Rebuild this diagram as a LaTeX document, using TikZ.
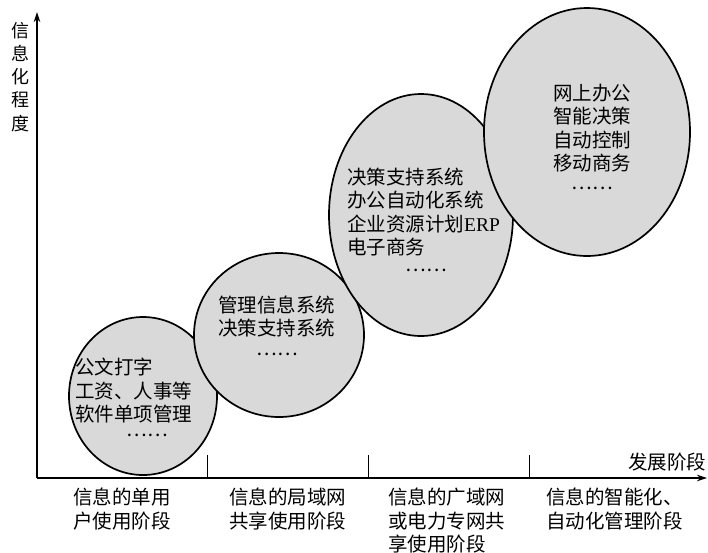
\documentclass[tikz,border=0pt]{standalone}
\usepackage{fontspec}
\setmainfont{Liberation Serif}
\newfontfamily\cjk{Noto Sans CJK SC}
\usetikzlibrary{arrows.meta,shapes.geometric}
\definecolor{bubblegray}{RGB}{217,217,217}
\begin{document}
\begin{tikzpicture}[x=1pt,y=-1pt,
  bubble/.style={ellipse,draw=black,line width=1.7pt,fill=bubblegray,inner sep=0pt},
  axisline/.style={line width=1.2pt,-{Stealth[length=10pt,width=6.5pt]}},
  tickline/.style={line width=1pt},
  txt/.style={font=\cjk\fontsize{19.5}{23.5}\selectfont,inner sep=0pt,align=left,anchor=north west},
  dotsnode/.style={font=\cjk\fontsize{19.5}{23.5}\selectfont,inner sep=0pt}
]
\useasboundingbox (0,0) rectangle (708,552);
% axes
\coordinate (O) at (37,478);
\coordinate (ytip) at (37,12);
\coordinate (xtip) at (707,478);
\draw[axisline] (O) -- (ytip);
\draw[axisline] (O) -- (xtip);
\coordinate (t1a) at (207,478); \coordinate (t1b) at (207,455);
\coordinate (t2a) at (368,478); \coordinate (t2b) at (368,455);
\coordinate (t3a) at (529,478); \coordinate (t3b) at (529,455);
\draw[tickline] (t1a) -- (t1b);
\draw[tickline] (t2a) -- (t2b);
\draw[tickline] (t3a) -- (t3b);
% axis labels
\node[font=\cjk\fontsize{18}{23.2}\selectfont,inner sep=0pt,align=center,anchor=north] (ylab) at (20,22) {信\\息\\化\\程\\度};
\node[txt] (xlab) at (628,453) {发展阶段};
% bubbles
\node[bubble,minimum width=148pt,minimum height=158pt] (e1) at (143,396) {};
\node[bubble,minimum width=170pt,minimum height=164pt] (e2) at (279,335) {};
\node[bubble,minimum width=184pt,minimum height=242pt] (e3) at (421,215) {};
\node[bubble,minimum width=206pt,minimum height=248pt] (e4) at (587,132) {};
% bubble texts
\node[txt] (e1t) at (75,358) {公文打字\\工资、人事等\\软件单项管理};
\node[dotsnode] (e1d) at (147,435) {……};
\node[txt] (e2t) at (218,295.5) {管理信息系统\\决策支持系统};
\node[dotsnode] (e2d) at (277,354) {……};
\node[txt] (e3t) at (347,167.5) {决策支持系统\\办公自动化系统\\企业资源计划{\rmfamily ERP}\\电子商务};
\node[dotsnode] (e3d) at (426,270) {……};
\node[txt] (e4t) at (553,83.5) {网上办公\\智能决策\\自动控制\\移动商务};
\node[dotsnode] (e4d) at (592,188) {……};
% stage labels
\node[txt] (s1) at (73,488) {信息的单用\\户使用阶段};
\node[txt] (s2) at (229,488) {信息的局域网\\共享使用阶段};
\node[txt] (s3) at (388,488) {信息的广域网\\或电力专网共\\享使用阶段};
\node[txt] (s4) at (546,488) {信息的智能化、\\自动化管理阶段};
\end{tikzpicture}
\end{document}
